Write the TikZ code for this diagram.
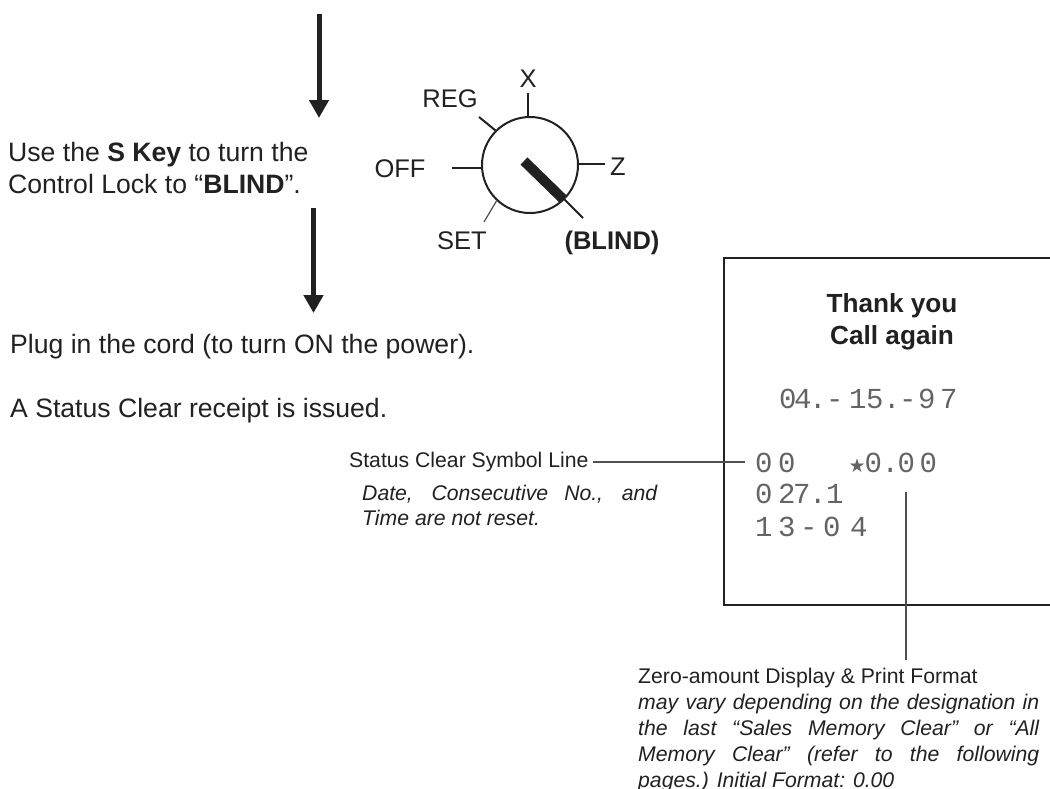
\documentclass[tikz,border=0pt]{standalone}
\usepackage{fontspec}
\setmainfont{Liberation Sans}
\newfontfamily\receiptfont{Liberation Mono}
\newfontfamily\symbolfont{DejaVu Sans}
\usepackage{xcolor}
\usetikzlibrary{arrows.meta}
\definecolor{inkdark}{gray}{0.13}
\newcommand{\jline}[2]{\makebox[#1pt][s]{#2}}
\newcommand{\rk}[1]{\kern#1pt\relax}
\tikzset{
    bigarrow/.style={-{Triangle[length=18pt,width=19pt]}, line width=5pt, inkdark},
    tick/.style={line width=2pt, inkdark},
    labeltext/.style={inner sep=0pt, anchor=base west, text=inkdark, font=\fontsize{26.6}{32}\selectfont},
    dialtext/.style={inner sep=0pt, anchor=base, text=inkdark, font=\fontsize{25.5}{30}\selectfont},
    smalltext/.style={inner sep=0pt, anchor=base west, text=inkdark, font=\fontsize{21.2}{26}\selectfont, align=left},
    receipttext/.style={inner sep=0pt, anchor=base west, text=inkdark!70, font=\receiptfont\fontsize{29}{29}\selectfont},
    leader/.style={line width=1.2pt, inkdark!80},
}
\begin{document}
\begin{tikzpicture}[x=1pt, y=-1pt]
    \useasboundingbox (0,0) rectangle (1050,788);

    % Arrows
    \coordinate (arrowAtop) at (319,14);
    \coordinate (arrowAend) at (319,118);
    \coordinate (arrowBtop) at (313.5,208);
    \coordinate (arrowBend) at (313.5,313);
    \draw[bigarrow] (arrowAtop) -- (arrowAend);
    \draw[bigarrow] (arrowBtop) -- (arrowBend);

    % Left column text
    \node[labeltext] (useKey) at (8,161) {Use the \textbf{S Key} to turn the};
    \node[labeltext] (ctrlLock) at (8,193) {Control Lock to “\textbf{BLIND}”.};
    \node[labeltext] (plugIn) at (10,353) {Plug in the cord (to turn ON the power).};
    \node[labeltext] (issued) at (10,417) {A Status Clear receipt is issued.};

    % Control lock dial
    \node[circle, draw=inkdark, line width=2pt, minimum size=96pt, inner sep=0pt] (dial) at (530,165) {};
    \node[dialtext] (posX) at (528,87) {X};
    \node[dialtext] (posReg) at (450,107) {REG};
    \node[dialtext] (posOff) at (400,177) {OFF};
    \node[dialtext] (posZ) at (618,175) {Z};
    \node[dialtext] (posSet) at (462,249) {SET};
    \node[dialtext] (posBlind) at (612,249) {\textbf{(BLIND)}};
    \coordinate (tickX) at (528,93);
    \coordinate (tickReg) at (479,117);
    \coordinate (tickOff) at (452,168);
    \coordinate (tickZ) at (605,164);
    \coordinate (tickSet) at (484,222);
    \coordinate (tickBlind) at (583,218);
    \draw[tick] (tickX) -- (dial.north -| tickX);
    \draw[tick] (tickReg) -- (dial.135);
    \draw[tick] (tickOff) -- (dial.west |- tickOff);
    \draw[tick] (tickZ) -- (dial.east |- tickZ);
    \draw[leader] (tickSet) -- (dial.227);
    \draw[tick] (tickBlind) -- (dial.center);
    \coordinate (pointerIn) at (524,161);
    \coordinate (pointerOut) at (563,199);
    \draw[inkdark, line width=10pt] (pointerIn) -- (pointerOut);

    % Receipt
    \coordinate (boxTL) at (724,258);
    \coordinate (boxTR) at (1051,258);
    \coordinate (boxBL) at (724,605);
    \coordinate (boxBR) at (1051,605);
    \draw[inkdark, line width=2.5pt] (boxTR) -- (boxTL) -- (boxBL) -- (boxBR);
    \node[inner sep=0pt, anchor=base, align=center, text=inkdark, font=\fontsize{26.2}{32}\selectfont\bfseries] (thanks) at (892,344) {Thank you\\Call again};
    \node[receipttext] (rcDate) at (779,408) {0\rk{-2.4}4\rk{-2.4}.\rk{-0.4}-\rk{5.6}1\rk{-0.4}5\rk{-0.4}.\rk{-1.4}-\rk{1.6}9\rk{4.6}7};
    \node[receipttext] (rcAmount) at (755,472) {0\rk{5.6}0\rk{53}{\symbolfont\fontsize{19}{19}\selectfont ★}\rk{-1}0\rk{-0.4}.\rk{-1.4}0\rk{4.6}0};
    \node[receipttext] (rcCons) at (755,503) {0\rk{5.6}2\rk{-2.4}7\rk{-1.4}.\rk{-0.4}1};
    \node[receipttext] (rcTime) at (755,536) {1\rk{5.6}3\rk{4.6}-\rk{5.6}0\rk{9.6}4};

    % Status line callout
    \node[smalltext] (statusLine) at (349,467) {Status Clear Symbol Line};
    \node[smalltext, font=\fontsize{21.2}{25}\selectfont\itshape] (statusNote) at (362,525)
        {\jline{295}{Date, Consecutive No., and}\\Time are not reset.};
    \coordinate (statusEnd) at (745,462);
    \draw[leader] (statusLine.east |- statusEnd) ++(4,0) -- (statusEnd);

    % Zero amount callout
    \coordinate (zeroTop) at (906,492);
    \coordinate (zeroEnd) at (906,660);
    \draw[leader] (zeroTop) -- (zeroEnd);
    \node[smalltext] (zeroTitle) at (638,683) {Zero-amount Display \& Print Format};
    \node[smalltext, font=\fontsize{21.2}{26}\selectfont\itshape] (zeroNote) at (638,787)
        {\jline{401}{may vary depending on the designation in}\\
         \jline{401}{the last “Sales Memory Clear” or “All}\\
         \jline{401}{Memory Clear” (refer to the following}\\
         pages.) Initial Format: 0.00};
\end{tikzpicture}
\end{document}
